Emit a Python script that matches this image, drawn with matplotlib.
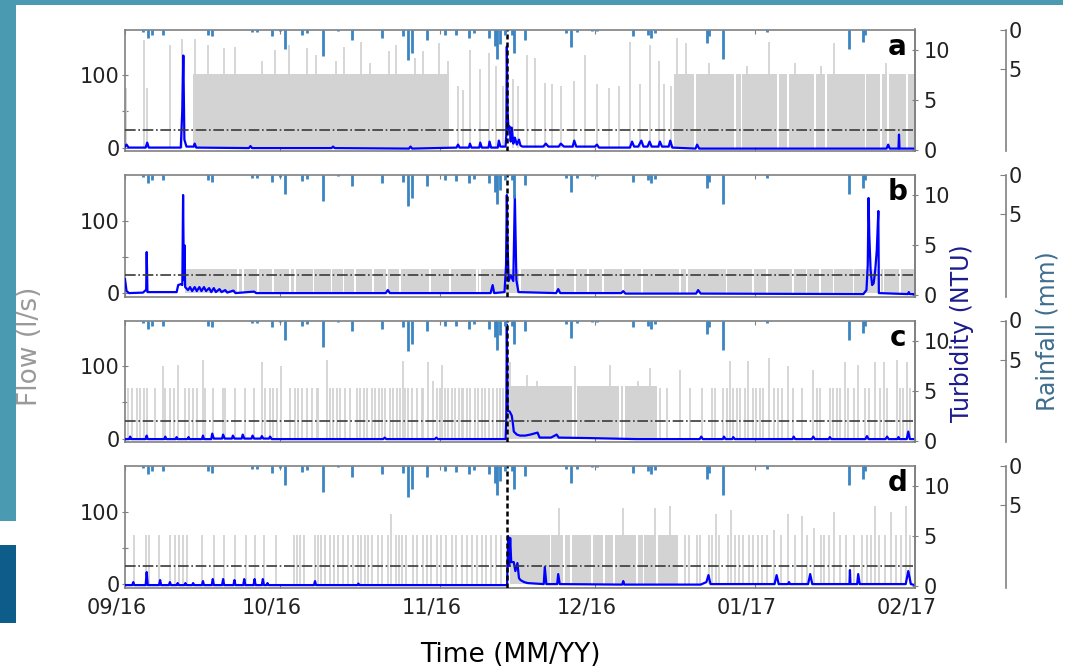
import numpy as np
import matplotlib.pyplot as plt
import matplotlib.dates as mdates
import matplotlib.transforms as mtransforms
from matplotlib.patches import Rectangle

# days counted from 01/09/2016
START = np.datetime64('2016-09-01T00:00')
N_DAYS = 153
EVENT_DAY = 73.9

# rainfall (mm), same for all four panels
rain_day = [3.55, 4.5, 5.2, 7.4, 16.1, 16.8, 24.5, 25.5, 28.4, 30.0, 31.0, 34.2, 35.2,
            38.4, 41.3, 43.9, 49.7, 53.9, 54.9, 55.5, 58.4, 62.0, 64.2, 66.7, 67.6,
            70.4, 71.7, 72.1, 72.6, 73.6, 74.9, 75.3, 77.5, 85.5, 86.3, 87.5, 90.4,
            91.4, 98.4, 101.3, 101.8, 102.7, 112.8, 113.1, 115.8, 124.3, 140.3, 143.0, 143.3]
rain_mm = [0.3, 1.06, 0.64, 0.64, 0.64, 0.85, 0.34, 0.34, 0.85, 0.25, 2.46, 0.76, 0.5,
           3.3, 0.15, 1.36, 1.06, 0.85, 3.9, 2.96, 1.36, 0.64, 0.76, 1.06, 0.5,
           1.06, 2.1, 3.7, 1.9, 0.64, 0.64, 2.96, 1.27, 0.42, 2.2, 0.34, 0.13,
           0.15, 0.85, 0.64, 1.06, 0.5, 1.7, 0.85, 3.73, 0.34, 2.46, 1.6, 0.64]

# flow (l/s): dense pumping blocks (start, end, level) with white gaps, plus single pulses
block_a1 = (13.1, 62.7, 102)
gaps_a1 = []
block_a2 = (106.4, 153.0, 101)
gaps_a2 = [110.4, 118.1, 119.4, 126.4, 128.4, 133.7, 135.7, 143.4, 146.4, 147.7, 151.4]
pulse_a_day = [0.2, 3.7, 4.3, 8.7, 11.0, 13.5, 16.0, 19.1, 21.3, 26.5, 29.1, 31.8, 35.3, 37.0,
               40.8, 42.5, 45.7, 47.5, 51.2, 52.4, 56.2, 57.7, 60.8, 62.5, 64.5, 65.5, 66.8,
               68.8, 70.5, 71.8, 73.2, 75.2, 76.2, 77.8, 79.5, 81.4, 82.7, 84.4, 87.0, 89.1,
               91.4, 93.7, 95.7, 97.9, 99.7, 101.7, 103.4, 104.4, 105.7, 107.0, 108.7, 113.1,
               120.4, 124.7, 129.7, 134.7, 137.4, 147.4]
pulse_a_val = [82, 149, 82, 142, 150, 150, 142, 137, 139, 119, 134, 142, 137, 127,
               120, 139, 146, 116, 133, 142, 124, 133, 144, 120, 85, 80, 134,
               108, 130, 113, 85, 94, 85, 127, 123, 89, 87, 85, 92, 127,
               87, 82, 85, 146, 87, 142, 120, 87, 85, 151, 144, 116,
               113, 146, 116, 113, 144, 116]

block_b = (11.6, 153.0, 33)
gaps_b = [21.9, 22.9, 25.8, 28.7, 32.0, 32.9, 36.5, 40.0, 42.3, 44.5, 48.1, 50.7, 53.3, 59.1,
          62.9, 68.1, 68.8, 76.5, 83.3, 87.2, 89.7, 92.6, 96.5, 100.1, 107.5, 108.8, 116.5,
          121.7, 124.3, 129.4, 132.0, 134.6, 137.2, 141.1, 146.2, 146.9, 150.1]

block_c = (74.0, 103.0, 72)
gaps_c = [86.8, 87.4, 95.9, 96.6]
pulse_c_level = 70
pulse_c_day = [0.6, 1.3, 2.3, 2.9, 3.6, 4.2, 5.8, 7.7, 8.7, 9.4, 11.6, 12.3, 13.2, 13.9, 15.5,
               17.1, 19.0, 19.4, 21.3, 23.2, 24.9, 27.1, 28.1, 28.7, 29.4, 32.0, 32.9, 33.6,
               34.2, 35.2, 36.2, 37.1, 37.4, 39.7, 40.3, 41.0, 41.6, 42.6, 43.6, 44.9, 45.5,
               46.2, 46.8, 47.8, 48.4, 49.1, 49.7, 50.4, 51.3, 52.0, 52.6, 53.3, 54.2, 54.9,
               55.5, 56.5, 57.5, 57.8, 60.4, 61.0, 62.0, 62.6, 63.3, 63.9, 64.6, 65.2, 65.5,
               66.2, 66.8, 67.8, 68.4, 69.1, 69.7, 70.4, 71.3, 72.0, 72.6, 73.3, 103.6, 104.9,
               109.4, 111.7, 113.6, 114.3, 115.9, 116.5, 117.8, 118.5, 119.1, 120.1, 121.7,
               122.3, 123.0, 123.6, 125.6, 126.5, 127.2, 129.4, 131.1, 134.0, 134.6, 136.5,
               137.2, 137.8, 138.5, 140.1, 141.1, 143.3, 144.0, 146.2, 147.5, 150.1, 150.7, 152.0]
tall_c_day = [7.4, 10.3, 15.2, 26.5, 30.3, 39.1, 53.9, 58.7, 59.7, 61.3, 74.6, 77.8, 79.7, 87.2,
              93.9, 99.4, 101.7, 107.5, 117.2, 120.7, 124.8, 128.5, 133.3, 139.4, 142.0, 145.3,
              146.9, 149.5, 151.4]
tall_c_val = [100, 102, 109, 105, 100, 109, 107, 105, 79, 102, 106, 88, 79, 100,
              101, 79, 97, 95, 107, 107, 111, 100, 95, 106, 102, 106,
              106, 109, 106]

block_d = (74.5, 107.1, 68)
gaps_d = [82.4, 85.0, 86.4, 90.4, 92.7, 94.7, 99.1, 100.4, 103.1]
pulse_d_level = 68
pulse_d_day = [1.7, 4.1, 4.6, 6.6, 8.7, 9.7, 10.5, 11.3, 12.1, 15.0, 17.2, 19.2, 21.4, 23.4, 25.2,
               27.0, 29.2, 32.8, 33.3, 33.8, 34.7, 36.8, 37.4, 38.0, 38.8, 39.7, 40.5, 41.3,
               42.3, 43.2, 44.2, 45.2, 45.7, 46.4, 47.0, 47.8, 49.0, 49.7, 51.0, 52.4, 53.0,
               53.7, 54.5, 55.7, 56.6, 57.7, 58.5, 59.3, 60.4, 61.2, 62.2, 63.3, 64.2, 65.2,
               66.2, 67.2, 68.2, 69.1, 69.9, 70.9, 71.9, 72.9, 108.4, 109.2, 110.7, 111.4,
               113.2, 113.7, 115.1, 116.7, 118.1, 118.9, 119.7, 120.9, 121.7, 122.5, 123.4,
               124.4, 127.1, 129.7, 132.1, 134.7, 135.4, 136.4, 138.4, 139.7, 141.1, 142.7,
               143.8, 144.4, 146.1, 147.1, 149.4, 150.3, 152.1]
tall_d_day = [51.5, 84.0, 96.4, 102.6, 105.6, 114.4, 117.3, 125.7, 128.5, 131.1, 133.5, 137.4,
              145.2, 148.4, 151.2]
tall_d_val = [96, 105, 105, 105, 108, 96, 102, 75, 97, 94, 77, 99, 108, 99, 108]

# turbidity (NTU) as (day, value) points
turb_a = [(0.0, 0.3), (0.3, 0.5), (0.7, 0.2), (4.0, 0.2), (4.3, 0.7), (4.6, 0.2), (10.8, 0.2),
          (11.1, 4.0), (11.3, 9.4), (11.5, 1.0), (11.9, 0.3), (13.3, 0.3), (13.5, 0.6),
          (13.8, 0.2), (24.0, 0.15), (24.3, 0.35), (24.6, 0.15), (40.0, 0.15), (40.3, 0.3),
          (40.6, 0.15), (55.0, 0.1), (55.3, 0.3), (55.6, 0.1), (64.2, 0.2), (64.5, 0.5),
          (64.8, 0.2), (66.6, 0.2), (66.8, 0.6), (67.1, 0.2), (68.6, 0.2), (68.8, 0.7),
          (69.1, 0.2), (70.4, 0.2), (70.6, 0.8), (70.9, 0.2), (72.2, 0.2), (72.4, 0.9),
          (72.7, 0.3), (73.7, 0.3), (73.85, 1.5), (73.95, 10.3), (74.1, 3.6), (74.3, 2.0),
          (74.5, 2.3), (74.7, 0.8), (74.9, 2.2), (75.2, 0.6), (75.5, 1.2), (75.9, 0.5),
          (76.3, 1.0), (76.6, 0.4), (77.0, 0.3), (81.0, 0.3), (81.5, 0.6), (82.0, 0.3),
          (84.0, 0.3), (84.4, 0.6), (85.0, 0.3), (86.7, 0.3), (87.0, 0.9), (87.4, 0.3),
          (91.0, 0.3), (91.4, 0.5), (91.8, 0.2), (97.8, 0.2), (98.2, 0.8), (98.6, 0.3),
          (99.4, 0.3), (100.0, 0.9), (100.4, 0.3), (101.2, 0.3), (101.6, 0.8), (102.0, 0.3),
          (103.3, 0.3), (103.6, 0.8), (104.0, 0.3), (105.3, 0.3), (105.6, 0.9), (106.0, 0.2),
          (110.5, 0.1), (110.8, 0.5), (111.2, 0.1), (147.5, 0.1), (147.8, 0.5), (148.1, 0.1),
          (149.8, 0.1), (149.9, 1.5), (150.0, 0.1), (153.0, 0.1)]
turb_b = [(0.0, 1.6), (0.3, 0.4), (0.8, 0.2), (3.5, 0.25), (3.9, 0.45), (4.1, 0.5), (4.2, 4.3),
          (4.35, 0.3), (10.0, 0.3), (10.3, 1.0), (10.8, 1.1), (11.1, 1.0), (11.25, 10.0),
          (11.4, 1.5), (11.5, 5.0), (11.65, 0.8), (12.2, 0.5), (12.6, 0.8), (13.0, 0.4),
          (13.5, 0.8), (13.9, 0.4), (14.4, 0.8), (14.8, 0.4), (15.3, 0.8), (15.7, 0.4),
          (16.3, 0.7), (16.7, 0.3), (17.2, 0.7), (17.6, 0.3), (18.3, 0.6), (18.7, 0.3),
          (19.4, 0.5), (19.8, 0.25), (21.0, 0.45), (21.4, 0.2), (25.0, 0.35), (25.4, 0.2),
          (35.0, 0.2), (50.5, 0.2), (50.9, 0.5), (51.3, 0.2), (70.8, 0.2), (71.2, 1.0),
          (71.5, 0.2), (73.5, 0.3), (73.8, 3.0), (73.95, 10.0), (74.1, 5.0), (74.3, 1.4),
          (74.7, 2.0), (75.2, 1.4), (75.5, 9.9), (75.8, 1.5), (76.2, 0.3), (83.5, 0.2),
          (83.9, 0.6), (84.3, 0.2), (96.1, 0.2), (96.5, 0.4), (96.9, 0.15), (110.6, 0.15),
          (111.0, 0.5), (111.5, 0.15), (143.0, 0.1), (143.6, 0.5), (143.85, 3.0), (144.0, 9.7),
          (144.15, 6.0), (144.4, 2.5), (144.7, 1.0), (145.0, 1.2), (145.3, 2.5), (145.6, 4.5),
          (145.9, 8.4), (146.0, 0.2), (151.6, 0.1), (151.8, 0.3), (152.0, 0.1), (153.0, 0.1)]
turb_c = [(0.0, 0.15), (0.8, 0.15), (1.0, 0.4), (1.2, 0.15), (4.0, 0.15), (4.2, 0.5), (4.4, 0.15),
          (7.6, 0.15), (7.8, 0.4), (8.0, 0.15), (9.8, 0.15), (10.0, 0.35), (10.2, 0.15),
          (12.1, 0.15), (12.3, 0.35), (12.5, 0.15), (14.9, 0.15), (15.1, 0.5), (15.3, 0.15),
          (16.7, 0.15), (16.9, 0.7), (17.2, 0.2), (18.8, 0.2), (19.0, 0.6), (19.3, 0.2),
          (20.7, 0.2), (20.9, 0.5), (21.2, 0.2), (22.6, 0.2), (22.8, 0.6), (23.1, 0.2),
          (24.5, 0.2), (24.7, 0.5), (25.0, 0.2), (26.3, 0.2), (26.5, 0.45), (26.8, 0.2),
          (27.9, 0.2), (28.1, 0.4), (28.4, 0.15), (50.0, 0.15), (50.3, 0.3), (50.6, 0.15),
          (60.0, 0.15), (60.3, 0.3), (60.6, 0.15), (73.7, 0.15), (73.85, 2.5), (73.95, 11.6),
          (74.1, 3.0), (74.5, 2.9), (74.9, 2.5), (75.1, 1.8), (75.3, 0.9), (75.9, 0.6),
          (76.5, 0.5), (77.5, 0.5), (78.5, 0.6), (79.9, 0.8), (80.3, 0.3), (82.5, 0.3),
          (83.6, 0.6), (84.0, 0.3), (90.0, 0.25), (99.0, 0.15), (111.3, 0.15), (111.6, 0.4),
          (111.9, 0.15), (115.8, 0.15), (116.0, 0.4), (116.3, 0.15), (117.6, 0.15), (117.8, 0.35),
          (118.1, 0.15), (129.3, 0.15), (129.5, 0.4), (129.8, 0.15), (133.0, 0.15), (133.3, 0.4),
          (133.6, 0.15), (136.3, 0.15), (136.5, 0.35), (136.8, 0.15), (143.4, 0.15), (143.7, 0.45),
          (144.0, 0.15), (147.3, 0.15), (147.6, 0.4), (147.9, 0.15), (149.6, 0.15), (149.8, 0.35),
          (150.0, 0.15), (151.4, 0.15), (151.7, 0.9), (152.0, 0.15), (153.0, 0.15)]
turb_d = [(0.0, 0.1), (1.4, 0.1), (1.6, 0.4), (1.8, 0.1), (4.0, 0.1), (4.2, 1.4), (4.4, 0.1),
          (6.6, 0.1), (6.8, 0.6), (7.0, 0.1), (8.5, 0.1), (8.7, 0.4), (8.9, 0.1), (10.0, 0.1),
          (10.2, 0.3), (10.4, 0.1), (11.5, 0.1), (11.7, 0.3), (11.9, 0.1), (13.0, 0.1),
          (13.2, 0.3), (13.4, 0.1), (14.9, 0.1), (15.1, 0.5), (15.3, 0.1), (16.8, 0.1),
          (17.0, 0.7), (17.2, 0.1), (18.8, 0.1), (19.0, 0.7), (19.2, 0.1), (21.0, 0.1),
          (21.2, 0.6), (21.4, 0.1), (22.9, 0.1), (23.1, 0.7), (23.3, 0.1), (24.9, 0.1),
          (25.1, 0.7), (25.3, 0.1), (26.5, 0.1), (26.7, 0.7), (26.9, 0.1), (27.4, 0.1),
          (27.6, 0.3), (27.8, 0.1), (36.6, 0.1), (36.8, 0.5), (37.0, 0.1), (45.0, 0.1),
          (45.2, 0.25), (45.4, 0.1), (74.0, 0.1), (74.2, 5.0), (74.4, 2.0), (74.6, 4.8),
          (74.8, 2.4), (75.3, 2.4), (75.6, 1.5), (76.0, 2.3), (76.3, 0.8), (76.6, 0.6),
          (77.3, 0.4), (78.0, 0.3), (81.1, 0.2), (81.3, 1.9), (81.6, 0.2), (83.7, 0.2),
          (83.9, 1.2), (84.2, 0.2), (96.3, 0.15), (96.5, 0.5), (96.7, 0.15), (111.5, 0.15),
          (112.6, 0.4), (113.0, 1.1), (113.4, 0.2), (125.8, 0.2), (126.2, 1.1), (126.6, 0.2),
          (128.4, 0.2), (128.6, 0.4), (128.8, 0.2), (132.3, 0.2), (132.7, 1.2), (133.1, 0.2),
          (140.3, 0.2), (140.4, 1.6), (140.5, 0.2), (141.8, 0.2), (142.0, 1.2), (142.3, 0.2),
          (151.2, 0.2), (151.7, 1.5), (152.2, 0.2), (153.0, 0.1)]

TURB_LIMIT = 2.0

GREY = '#d3d3d3'
FRAME = '#808080'
RAIN_C = '#3b85c2'
TURB_C = '#0000ff'
FS = 15


def to_time(days):
    return START + (np.asarray(days, dtype=float) * 1440).round().astype('timedelta64[m]')


def draw_block(ax, block, gaps, gap_w=0.35):
    start, end, level = block
    edges = [start]
    for g in gaps:
        edges += [g - gap_w / 2, g + gap_w / 2]
    edges.append(end)
    for a, b in zip(edges[0::2], edges[1::2]):
        ax.fill_between(to_time([a, b]), 0, level, color=GREY, lw=0)


panels = [
    dict(label='a', blocks=[(block_a1, gaps_a1), (block_a2, gaps_a2)],
         pulses=[(pulse_a_day, pulse_a_val)], turb=turb_a),
    dict(label='b', blocks=[(block_b, gaps_b)], pulses=[], turb=turb_b),
    dict(label='c', blocks=[(block_c, gaps_c)],
         pulses=[(pulse_c_day, [pulse_c_level] * len(pulse_c_day)), (tall_c_day, tall_c_val)],
         turb=turb_c),
    dict(label='d', blocks=[(block_d, gaps_d)],
         pulses=[(pulse_d_day, [pulse_d_level] * len(pulse_d_day)), (tall_d_day, tall_d_val)],
         turb=turb_d),
]

W, H = 1081, 671
fig = plt.figure(figsize=(W / 100, H / 100), dpi=100)

# slide decoration
fig.add_artist(Rectangle((0, 1 - 5 / H), 1063 / W, 5 / H, transform=fig.transFigure,
                         color='#4a9ab2', lw=0))
fig.add_artist(Rectangle((0, 1 - 521 / H), 16 / W, 521 / H, transform=fig.transFigure,
                         color='#4a9ab2', lw=0))
fig.add_artist(Rectangle((0, 1 - 623 / H), 16 / W, 78 / H, transform=fig.transFigure,
                         color='#0e5c8a', lw=0))

shift = mtransforms.ScaledTranslation(-8 / 100, 0, fig.dpi_scale_trans)

tops = [29.5, 175, 320.5, 466]
ph = 121.5
for i, p in enumerate(panels):
    ax = fig.add_axes([125 / W, 1 - (tops[i] + ph) / H, 790 / W, ph / H])

    # flow
    for blk, gaps in p['blocks']:
        draw_block(ax, blk, gaps)
    for days, vals in p['pulses']:
        ax.vlines(to_time(days), 0, vals, color=GREY, lw=1.3)
    ax.set_ylim(-4.8, 162.8)
    ax.set_yticks([0, 100])
    ax.set_yticks([50], minor=True)
    ax.tick_params(axis='y', which='both', direction='inout', length=4, width=0.8,
                   colors=FRAME, labelcolor='#222222', labelsize=FS, pad=2)

    ax.set_xlim(to_time(0), to_time(N_DAYS))
    ax.xaxis.set_major_locator(mdates.MonthLocator())
    ax.xaxis.set_major_formatter(mdates.DateFormatter('%m/%y'))
    ax.tick_params(axis='x', direction='in', length=3, colors=FRAME, labelcolor='#222222',
                   labelsize=FS, top=True, pad=7)
    if i < 3:
        ax.tick_params(axis='x', labelbottom=False)
    for s in ax.spines.values():
        s.set_color(FRAME)
        s.set_linewidth(1.2)

    # turbidity
    ax_t = ax.twinx()
    td, tv = zip(*p['turb'])
    ax_t.plot(to_time(td), tv, color=TURB_C, lw=1.6)
    ax_t.axhline(TURB_LIMIT, color='#3a3a3a', ls='-.', lw=1.2)
    ax_t.axvline(to_time(EVENT_DAY), color='black', ls=(0, (2, 1.2)), lw=1.8)
    ax_t.set_ylim(-0.14, 12.0)
    ax_t.set_yticks([0, 5, 10])
    ax_t.tick_params(axis='y', direction='inout', length=4, width=0.8, colors=FRAME,
                     labelcolor='#222222', labelsize=FS, pad=4)
    for name, s in ax_t.spines.items():
        s.set_visible(name == 'right')
        s.set_color(FRAME)
        s.set_linewidth(1.2)
    ax_t.text(0.978, 0.86, p['label'], transform=ax_t.transAxes, ha='center', va='center',
              fontsize=20, fontweight='bold')

    # rainfall
    ax_r = ax.twinx()
    ax_r.vlines(to_time(rain_day), 0, rain_mm, color=RAIN_C, lw=2)
    ax_r.set_ylim(15.4, 0)
    ax_r.set_yticks([0, 5])
    for name, s in ax_r.spines.items():
        s.set_visible(name == 'right')
    ax_r.spines['right'].set_position(('axes', 1.115))
    ax_r.spines['right'].set_color(FRAME)
    ax_r.spines['right'].set_linewidth(1.2)
    ax_r.tick_params(axis='y', direction='in', length=4, width=0.8, colors=FRAME,
                     labelcolor='#222222', labelsize=FS, pad=2)

# month labels sit a little left of their ticks, as in the original
fig.canvas.draw()
for lab in ax.get_xticklabels():
    lab.set_transform(lab.get_transform() + shift)

fig.text(30 / W, 1 - 346 / H, 'Flow (l/s)', rotation=90, ha='center', va='center',
         fontsize=19, color='#999999')
fig.text(962 / W, 1 - 333 / H, 'Turbidity (NTU)', rotation=90, ha='center', va='center',
         fontsize=17, color='#1c1c8c')
fig.text(1047 / W, 1 - 331 / H, 'Rainfall (mm)', rotation=90, ha='center', va='center',
         fontsize=17, color='#3e6e8e')
fig.text(510 / W, 1 - 655 / H, 'Time (MM/YY)', ha='center', va='center', fontsize=19)

fig.savefig('out.png', dpi=100)
